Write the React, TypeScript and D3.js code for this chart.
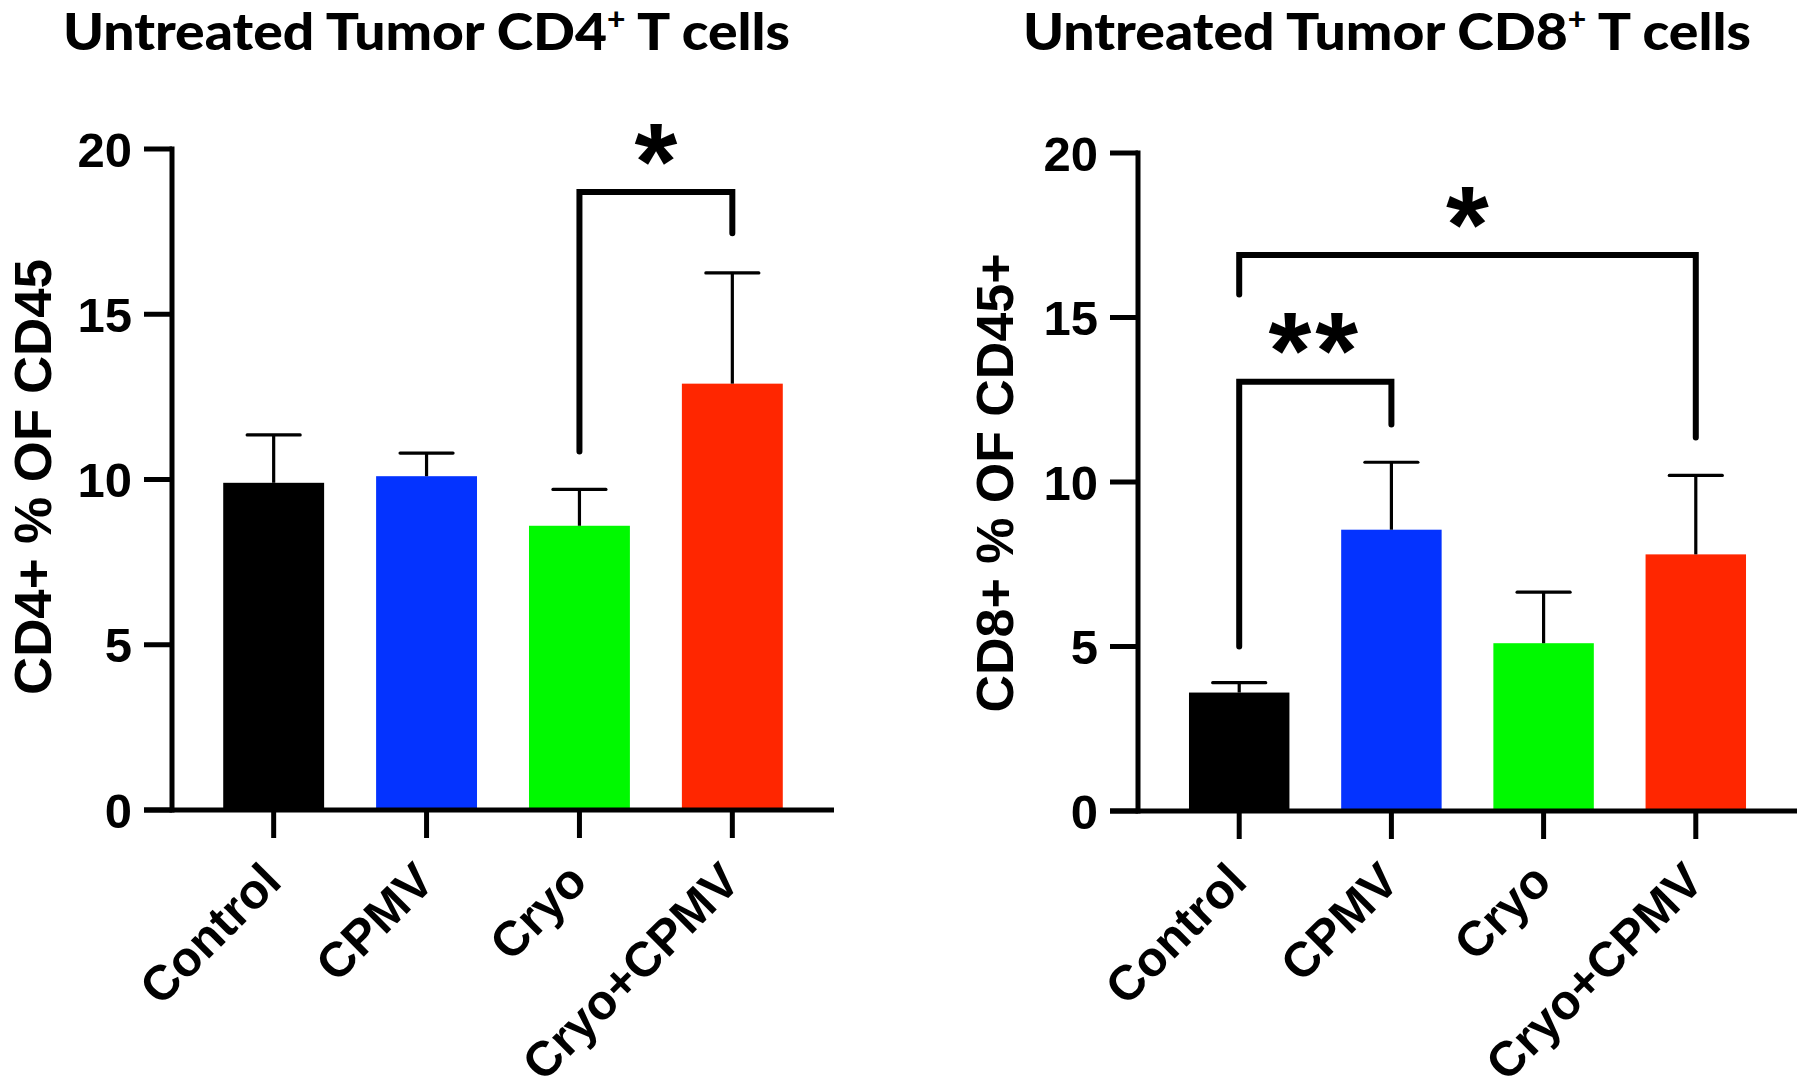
import React from "react";
import * as d3 from "d3";

const categories = ["Control", "CPMV", "Cryo", "Cryo+CPMV"];
const barColors = ["#000000", "#0433FF", "#00F900", "#FF2600"];
const yTicks = [0, 5, 10, 15, 20];

const cd4Means = [9.9, 10.1, 8.6, 12.9];
const cd4Upper = [11.35, 10.8, 9.7, 16.25];

const cd8Means = [3.6, 8.55, 5.1, 7.8];
const cd8Upper = [3.9, 10.6, 6.65, 10.2];

// comparisons: group indices, bracket level, leg end values, label
const cd4Comparisons = [
  { from: 2, to: 3, level: 18.7, fromEnd: 10.85, toEnd: 17.45, label: "*" },
];
const cd8Comparisons = [
  { from: 0, to: 1, level: 13.05, fromEnd: 5.0, toEnd: 11.75, label: "**" },
  { from: 0, to: 3, level: 16.9, fromEnd: 15.7, toEnd: 11.35, label: "*" },
];

type Comp = { from: number; to: number; level: number; fromEnd: number; toEnd: number; label: string };

const SANS = "'Liberation Sans', Arial, sans-serif";

function Panel(props: {
  title: string;
  titleX: number;
  titleLen: number;
  yTitle: string;
  yTitleX: number;
  yTitleY: number;
  yTitleLen: number;
  axisX: number;
  axisEnd: number;
  yZero: number;
  yTop: number;
  means: number[];
  upper: number[];
  comps: Comp[];
}) {
  const { axisX, axisEnd, yZero, yTop } = props;
  const x = d3
    .scaleBand<string>()
    .domain(categories)
    .range([axisX, axisEnd])
    .paddingInner(0.34)
    .paddingOuter(0.335);
  const y = d3.scaleLinear().domain([0, 20]).range([yZero, yTop]);
  const bw = x.bandwidth();
  const cx = (i: number) => (x(categories[i]) as number) + bw / 2;
  const capW = 53;
  const tickFs = 49;
  const starFs = 110;

  return (
    <g>
      {/* title */}
      <text
        x={props.titleX}
        y={50}
        fontFamily="Lato, 'Open Sans', sans-serif"
        fontWeight={900}
        fontSize={52}
        textLength={props.titleLen}
        lengthAdjust="spacingAndGlyphs"
        fill="#000"
      >
        {props.title}
        <tspan dy={-20} fontSize={30}>+</tspan>
        <tspan dy={20}> T cells</tspan>
      </text>

      {/* y title */}
      <text
        transform={`translate(${props.yTitleX},${props.yTitleY}) rotate(-90)`}
        textAnchor="middle"
        fontFamily={SANS}
        fontWeight={700}
        fontSize={52.5}
        textLength={props.yTitleLen}
        lengthAdjust="spacingAndGlyphs"
        fill="#000"
      >
        {props.yTitle}
      </text>

      {/* bars */}
      {categories.map((c, i) => (
        <rect
          key={c}
          x={x(c)}
          y={y(props.means[i])}
          width={bw}
          height={yZero - y(props.means[i])}
          fill={barColors[i]}
        />
      ))}

      {/* error bars */}
      {categories.map((c, i) => (
        <g key={"e" + c} stroke="#000" strokeWidth={3.2} fill="none">
          <line x1={cx(i)} x2={cx(i)} y1={y(props.means[i])} y2={y(props.upper[i])} />
          <line
            x1={cx(i) - capW / 2}
            x2={cx(i) + capW / 2}
            y1={y(props.upper[i])}
            y2={y(props.upper[i])}
            strokeLinecap="round"
          />
        </g>
      ))}

      {/* y axis */}
      <line x1={axisX} x2={axisX} y1={y(0) + 2.5} y2={y(20) - 2.5} stroke="#000" strokeWidth={5} />
      {yTicks.map((t) => (
        <g key={"yt" + t}>
          <line x1={axisX - 28} x2={axisX} y1={y(t)} y2={y(t)} stroke="#000" strokeWidth={5} />
          <text
            x={axisX - 40}
            y={y(t) + 17.5}
            textAnchor="end"
            fontFamily={SANS}
            fontWeight={700}
            fontSize={tickFs}
            fill="#000"
          >
            {t}
          </text>
        </g>
      ))}

      {/* x axis */}
      <line x1={axisX - 28} x2={axisEnd} y1={y(0)} y2={y(0)} stroke="#000" strokeWidth={5} />
      {categories.map((c, i) => (
        <g key={"xt" + c}>
          <line x1={cx(i)} x2={cx(i)} y1={y(0)} y2={y(0) + 28} stroke="#000" strokeWidth={5} />
          <text
            transform={`translate(${cx(i) + 10},884) rotate(-45)`}
            textAnchor="end"
            fontFamily={SANS}
            fontWeight={700}
            fontSize={tickFs}
            fill="#000"
          >
            {c}
          </text>
        </g>
      ))}

      {/* significance brackets */}
      {props.comps.map((cp, k) => {
        const x1 = cx(cp.from);
        const x2 = cx(cp.to);
        const yl = y(cp.level);
        return (
          <g key={"cp" + k}>
            <path
              d={`M${x1},${y(cp.fromEnd)}L${x1},${yl}L${x2},${yl}L${x2},${y(cp.toEnd)}`}
              fill="none"
              stroke="#000"
              strokeWidth={6}
              strokeLinecap="round"
              strokeLinejoin="miter"
            />
            <text
              x={(x1 + x2) / 2}
              y={yl - 45 + 0.47 * starFs}
              textAnchor="middle"
              fontFamily={SANS}
              fontWeight={700}
              fontSize={starFs}
              letterSpacing={cp.label.length > 1 ? 4 : 0}
              fill="#000"
            >
              {cp.label}
            </text>
          </g>
        );
      })}
    </g>
  );
}

export default function App() {
  return (
    <svg
      width={1800}
      height={1085}
      viewBox="0 0 1800 1085"
      style={{ position: "absolute", left: 0, top: 0, background: "#fff" }}
    >
      <rect x={0} y={0} width={1800} height={1085} fill="#fff" />
      <Panel
        title="Untreated Tumor CD4"
        titleX={63}
        titleLen={727}
        yTitle="CD4+ % OF CD45"
        yTitleX={51}
        yTitleY={477}
        yTitleLen={436}
        axisX={172}
        axisEnd={834}
        yZero={810}
        yTop={149}
        means={cd4Means}
        upper={cd4Upper}
        comps={cd4Comparisons}
      />
      <Panel
        title="Untreated Tumor CD8"
        titleX={1023}
        titleLen={728}
        yTitle="CD8+ % OF CD45+"
        yTitleX={1013}
        yTitleY={483}
        yTitleLen={459}
        axisX={1138}
        axisEnd={1797}
        yZero={811}
        yTop={153}
        means={cd8Means}
        upper={cd8Upper}
        comps={cd8Comparisons}
      />
    </svg>
  );
}
